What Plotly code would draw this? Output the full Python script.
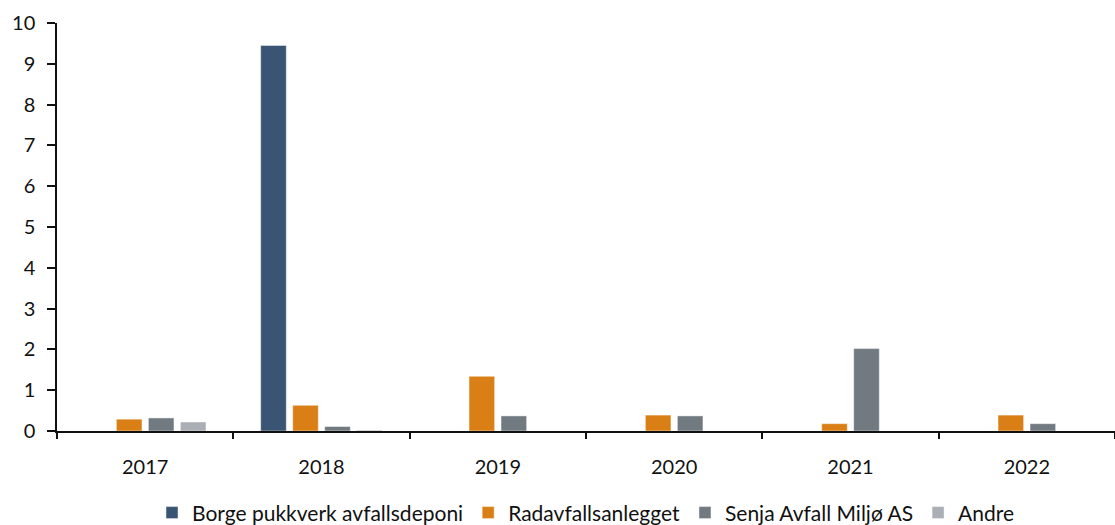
import plotly.graph_objects as go

years = ["2017", "2018", "2019", "2020", "2021", "2022"]

borge = [0.0, 9.45, 0.0, 0.0, 0.0, 0.0]
radavfall = [0.29, 0.63, 1.34, 0.39, 0.18, 0.39]
senja = [0.32, 0.11, 0.37, 0.37, 2.02, 0.18]
andre = [0.22, 0.02, 0.0, 0.0, 0.0, 0.0]

series = [
    ("Borge pukkverk avfallsdeponi", borge, "#3A5573"),
    ("Radavfallsanlegget", radavfall, "#D97F16"),
    ("Senja Avfall Miljø AS", senja, "#717981"),
    ("Andre", andre, "#A9AFB4"),
]

font_family = "Lato, 'Open Sans', sans-serif"

fig = go.Figure()
for name, vals, color in series:
    fig.add_trace(go.Bar(
        x=years, y=vals, name=name,
        marker=dict(color=color, line=dict(color="rgba(255,255,255,0.45)", width=1)),
    ))

fig.update_layout(
    width=1115, height=525,
    margin=dict(l=57, r=0, t=23, b=94),
    paper_bgcolor="white", plot_bgcolor="white",
    barmode="group", bargap=0.274, bargroupgap=0.2,
    font=dict(family=font_family, size=20, color="#111111"),
    showlegend=True,
    legend=dict(
        orientation="h", x=0.5, xanchor="center",
        yref="container", y=0.023, yanchor="middle",
        font=dict(size=21, color="#111111"),
        itemwidth=30, tracegroupgap=0,
    ),
)

fig.update_xaxes(
    type="category",
    showline=True, linecolor="#111111", linewidth=1.5,
    ticks="outside", tickson="boundaries", ticklen=6, tickwidth=1.5, tickcolor="#111111",
    ticklabelstandoff=17,
    showgrid=False, zeroline=False,
)
fig.update_yaxes(
    range=[0, 10], dtick=1,
    showline=True, linecolor="#111111", linewidth=1.5,
    ticks="outside", ticklen=8, tickwidth=1.5, tickcolor="#111111",
    ticklabelstandoff=8,
    showgrid=False, zeroline=False,
)

fig.write_html("out.html")
